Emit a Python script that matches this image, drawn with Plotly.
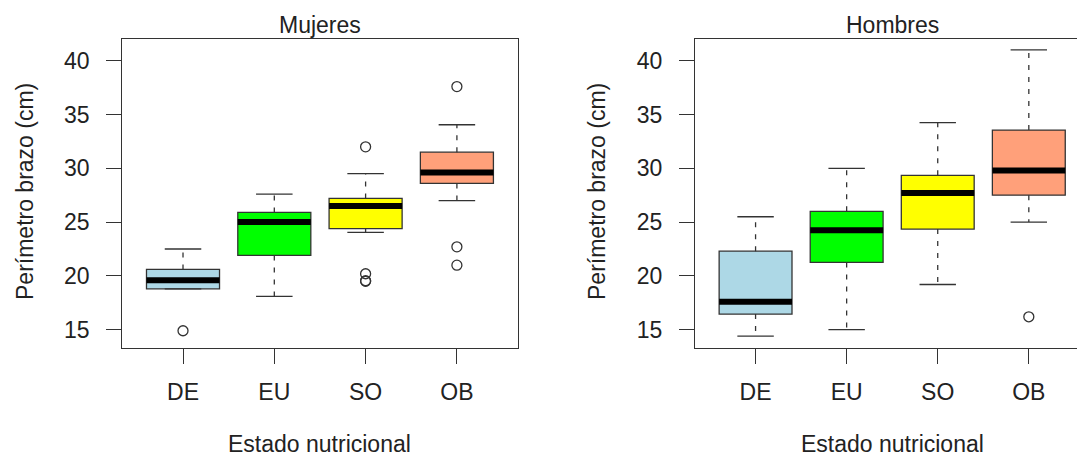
import plotly.graph_objects as go

# Five-number summaries per nutritional status (arm circumference, cm)
categories = ["DE", "EU", "SO", "OB"]
positions = [1, 2, 3, 4]
fill_colors = ["#ADD8E6", "#00FF00", "#FFFF00", "#FFA07A"]

# Mujeres
muj_low = [18.8, 18.1, 24.05, 27.0]
muj_q1 = [18.8, 21.9, 24.4, 28.6]
muj_med = [19.6, 25.0, 26.5, 29.6]
muj_q3 = [20.6, 25.9, 27.2, 31.5]
muj_high = [22.5, 27.6, 29.5, 34.05]
muj_out = [[14.9], [], [32.0, 20.2, 19.55, 19.5], [37.6, 22.7, 21.0]]

# Hombres
hom_low = [14.4, 15.0, 19.2, 25.0]
hom_q1 = [16.45, 21.25, 24.35, 27.5]
hom_med = [17.6, 24.25, 27.7, 29.8]
hom_q3 = [22.3, 26.0, 29.35, 33.55]
hom_high = [25.5, 30.0, 34.25, 41.0]
hom_out = [[], [], [], [16.2]]

y_ticks = [15, 20, 25, 30, 35, 40]

W, H = 1077, 459
FONT = "Liberation Sans, Arial, sans-serif"
INK = "#222222"
EDGE = "#333333"
BOX_W = 0.8
STAPLE_W = 0.4

fig = go.Figure()


def add_panel(xa, ya, low, q1, med, q3, high, outs):
    for i, pos in enumerate(positions):
        # box body
        fig.add_trace(go.Box(
            x=[pos], q1=[q1[i]], median=[med[i]], q3=[q3[i]],
            lowerfence=[q1[i]], upperfence=[q3[i]],
            width=BOX_W, fillcolor=fill_colors[i],
            line=dict(color=EDGE, width=1.3), boxpoints=False,
            xaxis=xa, yaxis=ya, showlegend=False, hoverinfo="skip",
        ))
        # dashed whiskers
        for a, b in ((q3[i], high[i]), (q1[i], low[i])):
            if a != b:
                fig.add_trace(go.Scatter(
                    x=[pos, pos], y=[a, b], mode="lines",
                    line=dict(color=EDGE, width=1.3, dash="5px,7px"),
                    xaxis=xa, yaxis=ya, showlegend=False, hoverinfo="skip",
                ))
        # staples
        for v in (low[i], high[i]):
            fig.add_trace(go.Scatter(
                x=[pos - STAPLE_W / 2, pos + STAPLE_W / 2], y=[v, v],
                mode="lines", line=dict(color=EDGE, width=1.3),
                xaxis=xa, yaxis=ya, showlegend=False, hoverinfo="skip",
            ))
        # thick median
        fig.add_trace(go.Scatter(
            x=[pos - BOX_W / 2, pos + BOX_W / 2], y=[med[i], med[i]],
            mode="lines", line=dict(color="black", width=6),
            xaxis=xa, yaxis=ya, showlegend=False, hoverinfo="skip",
        ))
        # outliers
        if outs[i]:
            fig.add_trace(go.Scatter(
                x=[pos] * len(outs[i]), y=outs[i], mode="markers",
                marker=dict(symbol="circle-open", size=10,
                            line=dict(color=EDGE, width=1.3), color=EDGE),
                xaxis=xa, yaxis=ya, showlegend=False, hoverinfo="skip",
            ))


add_panel("x", "y", muj_low, muj_q1, muj_med, muj_q3, muj_high, muj_out)
add_panel("x2", "y2", hom_low, hom_q1, hom_med, hom_q3, hom_high, hom_out)

y_dom = [1 - 348.3 / H, 1 - 39 / H]
y_rng = [13.27, 42.02]

common_x = dict(
    tickmode="array", tickvals=positions, ticktext=categories,
    ticks="outside", ticklen=15, tickwidth=1.3, tickcolor=EDGE,
    showline=True, linecolor=EDGE, linewidth=1.3, mirror=True,
    showgrid=False, zeroline=False, ticklabelstandoff=8,
    tickfont=dict(family=FONT, size=23, color=INK),
)
common_y = dict(
    tickmode="array", tickvals=y_ticks, range=y_rng, domain=y_dom,
    ticks="outside", ticklen=15, tickwidth=1.3, tickcolor=EDGE,
    showline=True, linecolor=EDGE, linewidth=1.3,
    showgrid=False, zeroline=False, ticklabelstandoff=12,
    tickfont=dict(family=FONT, size=23, color=INK),
)

fig.update_layout(
    width=W, height=H, autosize=False,
    margin=dict(l=0, r=0, t=0, b=0),
    paper_bgcolor="white", plot_bgcolor="white",
    boxmode="overlay",
    xaxis=dict(domain=[122.3 / W, 517.7 / W], range=[0.335, 4.666], **common_x),
    yaxis=dict(anchor="x", mirror=True, **common_y),
    xaxis2=dict(domain=[695 / W, 1.0], range=[0.335, 4.529], anchor="y2", **common_x),
    yaxis2=dict(anchor="x2", mirror=False, **common_y),
)

txt = dict(family=FONT, size=23, color=INK)
panel_centers = [320 / W, 892.5 / W]
for cx, title in zip(panel_centers, ["Mujeres", "Hombres"]):
    fig.add_annotation(text=title, x=cx, y=1 - 25 / H, xref="paper", yref="paper",
                       xanchor="center", yanchor="middle", showarrow=False, font=txt)
    fig.add_annotation(text="Estado nutricional", x=cx, y=0,
                       xref="paper", yref="paper", xanchor="center",
                       yanchor="bottom", showarrow=False, font=txt)
for lx in [25 / W, 597 / W]:
    fig.add_annotation(text="Perímetro brazo (cm)", x=lx, y=1 - 192 / H,
                       xref="paper", yref="paper", xanchor="center",
                       yanchor="middle", textangle=-90, showarrow=False, font=txt)

fig.write_html("out.html")
